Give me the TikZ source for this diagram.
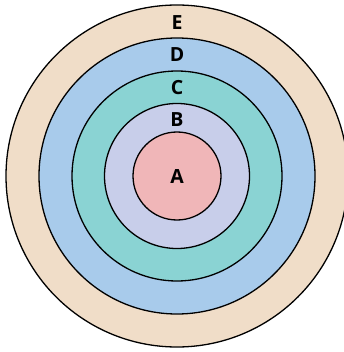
\documentclass[tikz,border=0pt]{standalone}
\usepackage{fontspec}
\setmainfont{Open Sans}
\definecolor{cE}{HTML}{F0DDC8}
\definecolor{cD}{HTML}{A8CBEB}
\definecolor{cC}{HTML}{8AD3D3}
\definecolor{cB}{HTML}{C8CEEA}
\definecolor{cA}{HTML}{F0B6B8}
\tikzset{ring/.style={draw=black, line width=1.3pt},
  lbl/.style={font=\fontsize{19.5}{19.5}\selectfont\bfseries, inner sep=0pt}}
\begin{document}
\begin{tikzpicture}[x=1pt,y=-1pt]
\useasboundingbox (0,0) rectangle (344,352);
\begin{scope}
\clip (0,0) rectangle (344,352);
\path[ring, fill=cE] (177,176) circle (171);
\path[ring, fill=cD] (177,176) circle (138);
\path[ring, fill=cC] (177,176) circle (105);
\path[ring, fill=cB] (177,176) circle (72.5);
\path[ring, fill=cA] (177,176) circle (44);
\end{scope}
\node[lbl] (E) at (177,22.5) {E};
\node[lbl] (D) at (177,54.5) {D};
\node[lbl] (C) at (177,87.5) {C};
\node[lbl] (B) at (177,120) {B};
\node[lbl] (A) at (177,177) {A};
\end{tikzpicture}
\end{document}
